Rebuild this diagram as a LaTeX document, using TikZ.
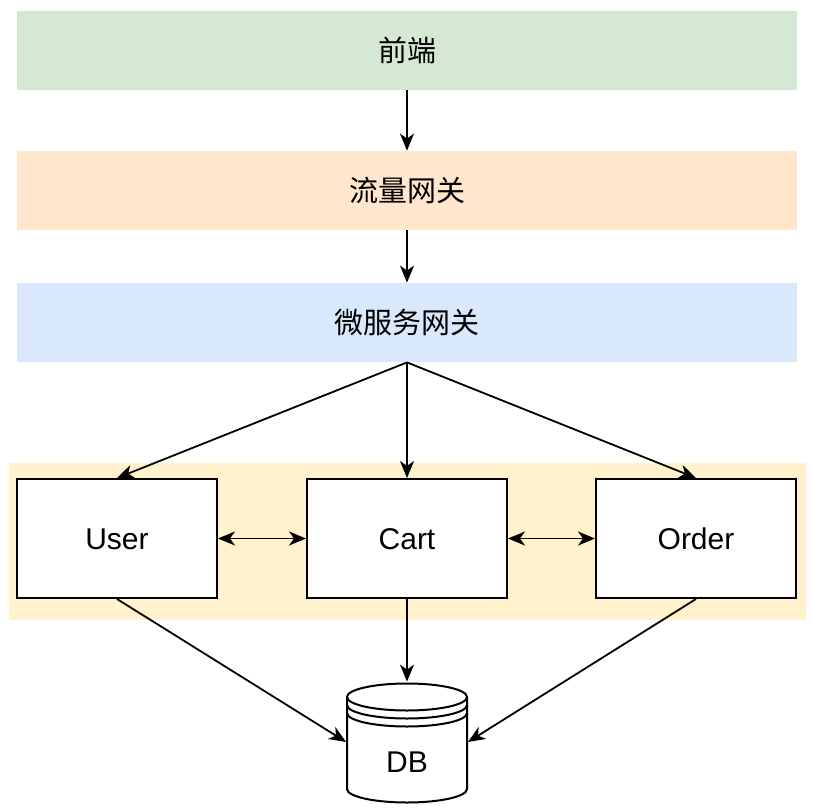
\documentclass[tikz,border=0pt]{standalone}
\usepackage{fontspec}
\setmainfont{Liberation Sans}
\newfontfamily\cjk{Noto Sans CJK SC}
\usetikzlibrary{arrows.meta,positioning}
\definecolor{feGreen}{HTML}{D5E8D4}
\definecolor{gwOrange}{HTML}{FFE6CC}
\definecolor{msBlue}{HTML}{DAE8FC}
\definecolor{svcYellow}{HTML}{FFF2CC}
\tikzset{
  layer/.style={rectangle, draw=none, minimum width=390pt, minimum height=39.5pt, font=\cjk\fontsize{14.5pt}{18pt}\selectfont},
  svcbox/.style={draw, rectangle, fill=white, line width=1pt, minimum width=100pt, minimum height=59.5pt, text height=11pt, text depth=0pt, font=\fontsize{15pt}{18pt}\selectfont},
  dbshape/.style={rectangle, draw=none, minimum width=60.5pt, minimum height=60pt},
  flowarrow/.style={-{Stealth[length=8.5pt, width=7pt, inset=2.5pt]}, line width=0.9pt},
  biarrow/.style={{Stealth[length=8.5pt, width=7pt, inset=2.5pt]}-{Stealth[length=8.5pt, width=7pt, inset=2.5pt]}, line width=0.9pt},
}

\begin{document}
\begin{tikzpicture}[x=0.5pt,y=0.5pt]
  \useasboundingbox (0,0) rectangle (814,-808);

  % gateway layers
  \node[layer, fill=feGreen] (fe) at (407,-50.5) {前端};
  \node[layer, fill=gwOrange] (gw) at (407,-190.5) {流量网关};
  \node[layer, fill=msBlue] (msgw) at (407,-322.5) {微服务网关};

  \draw[flowarrow] (fe.south) -- (gw.north);
  \draw[flowarrow] (gw.south) -- (msgw.north);

  % service band
  \fill[svcYellow] (9,-463) rectangle (806,-620);
  \node[svcbox] (user) at (117,-538.5) {User};
  \node[svcbox] (cart) at (407,-538.5) {Cart};
  \node[svcbox] (order) at (696,-538.5) {Order};

  \draw[flowarrow] (msgw.south) -- (user.north);
  \draw[flowarrow] (msgw.south) -- (cart.north);
  \draw[flowarrow] (msgw.south) -- (order.north);
  \draw[biarrow] (user.east) -- (cart.west);
  \draw[biarrow] (cart.east) -- (order.west);

  % database
  \filldraw[fill=white, line width=1pt] (347,-697) -- (347,-789)
    arc[start angle=180, end angle=360, x radius=60, y radius=13.5] -- (467,-697)
    arc[start angle=0, end angle=180, x radius=60, y radius=13.5] -- cycle;
  \draw[line width=1pt] (347,-697) arc[start angle=180, end angle=360, x radius=60, y radius=13.5];
  \draw[line width=1pt] (347,-705) arc[start angle=180, end angle=360, x radius=60, y radius=13.5];
  \draw[line width=1pt] (347,-713) arc[start angle=180, end angle=360, x radius=60, y radius=13.5];
  \node[dbshape] (db) at (407,-742) {};
  \node[font=\fontsize{15pt}{18pt}\selectfont] (dblabel) at (407,-762) {DB};

  \draw[flowarrow] (user.south) -- (db.west);
  \draw[flowarrow] (cart.south) -- (db.north);
  \draw[flowarrow] (order.south) -- (db.east);
\end{tikzpicture}
\end{document}
